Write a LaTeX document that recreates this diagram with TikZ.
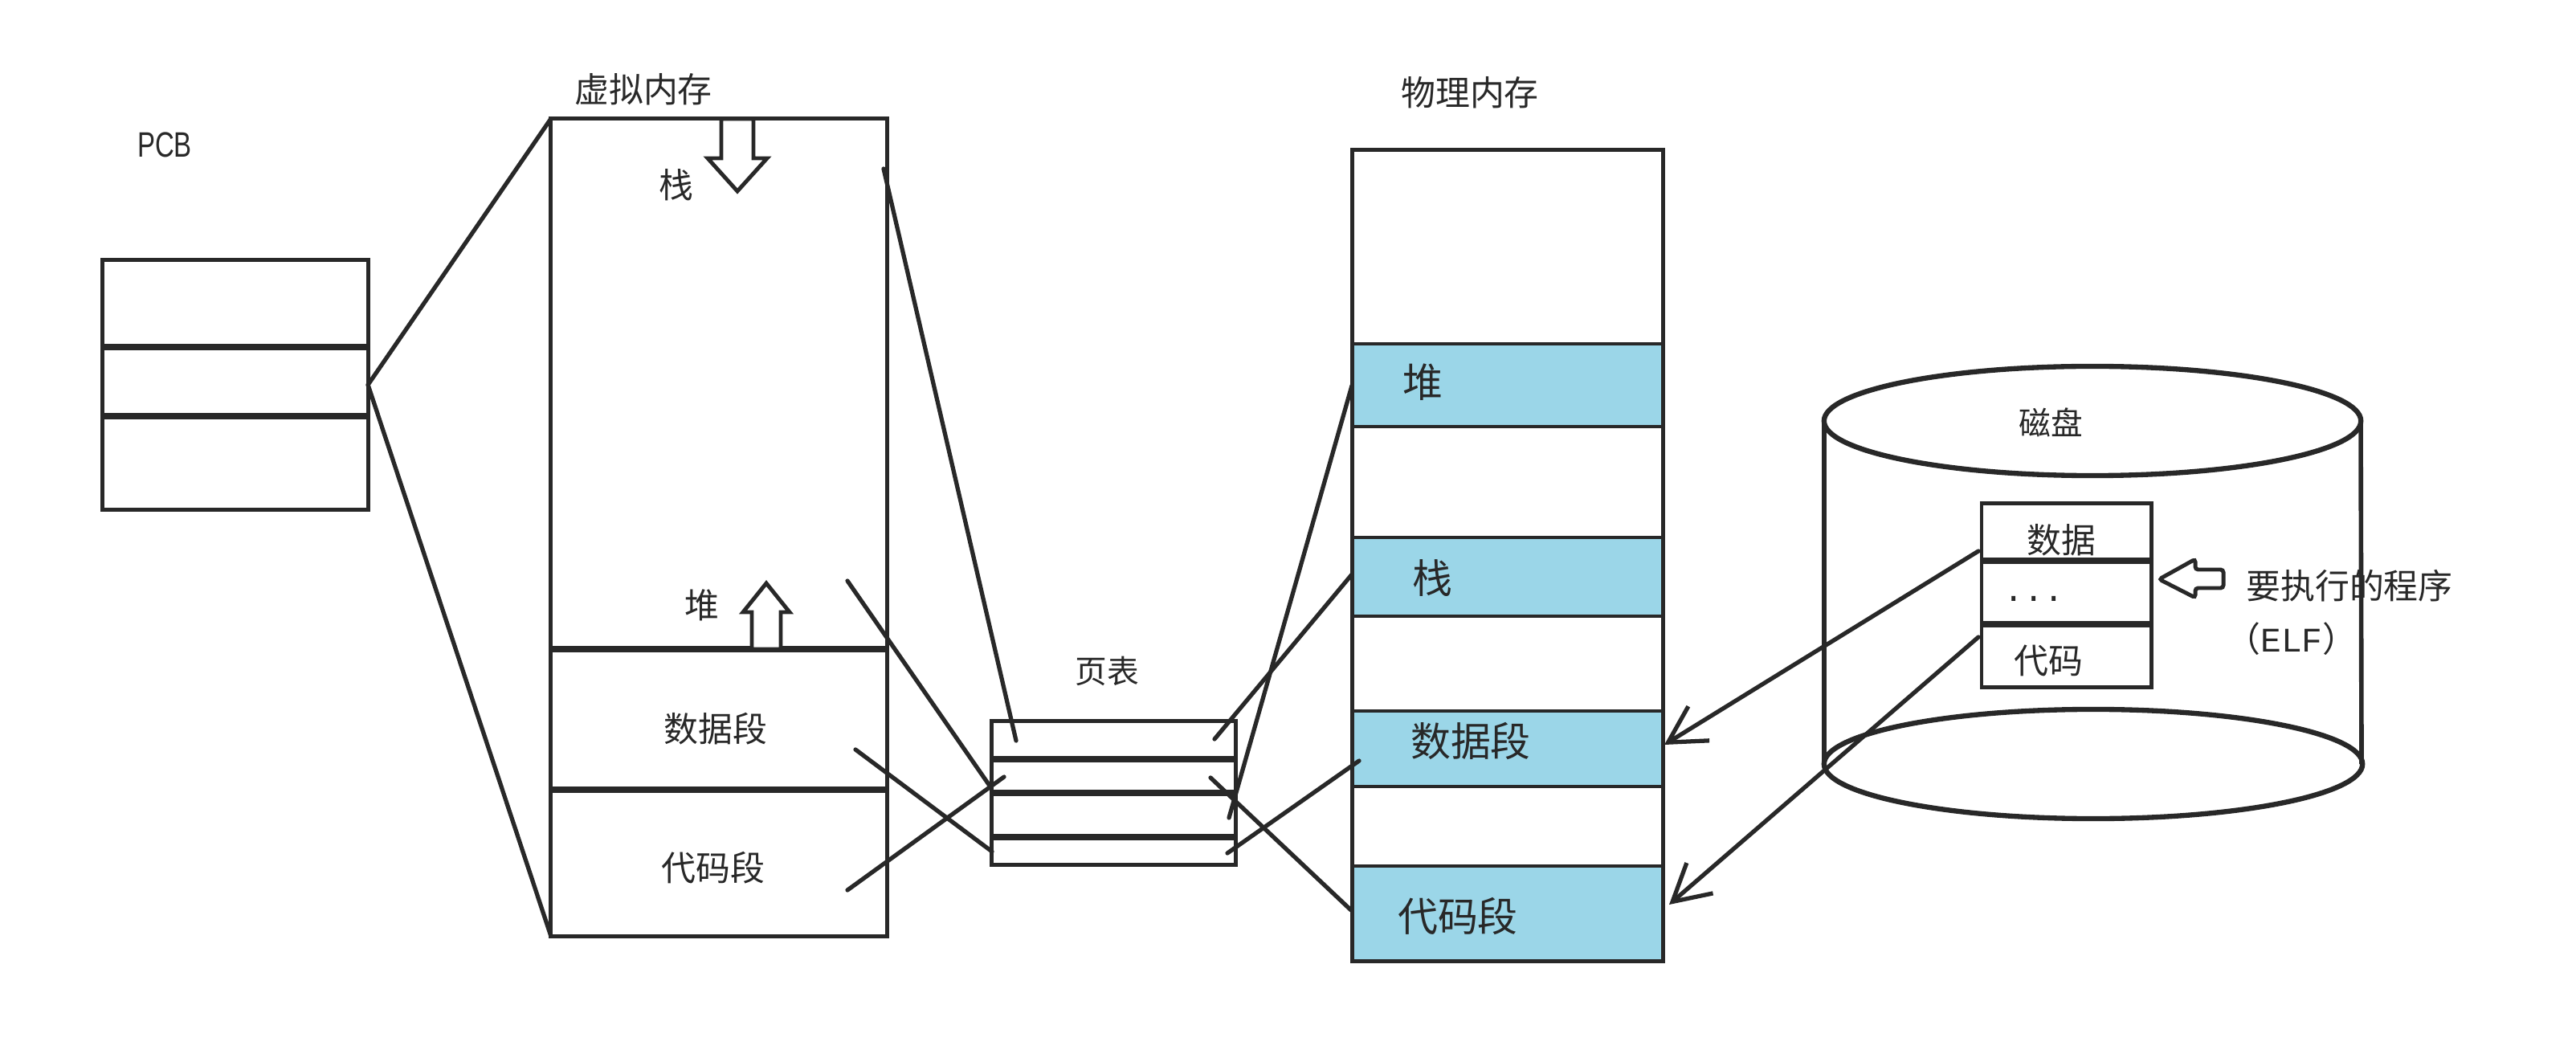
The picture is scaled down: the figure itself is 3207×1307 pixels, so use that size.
\documentclass[tikz,border=0pt]{standalone}
\usepackage{fontspec}
\setmainfont{Noto Sans CJK SC}
\newfontfamily\latinsans{Liberation Sans}
\newfontfamily\monofont{Liberation Mono}
\usetikzlibrary{arrows.meta}
\definecolor{segblue}{RGB}{155,214,232}
\definecolor{ink}{RGB}{40,40,40}
\begin{document}
\begin{tikzpicture}[x=0.01cm,y=-0.01cm,
  box/.style={draw=ink, line width=1.4pt, rectangle, inner sep=0pt, outer sep=0pt},
  divider/.style={draw=ink, line width=2pt},
  link/.style={draw=ink, line width=1.5pt, line cap=round},
  lbl/.style={font=\fontsize{12.2}{14}\selectfont, inner sep=0pt, text=ink},
  smalllbl/.style={font=\fontsize{11.3}{13}\selectfont, inner sep=0pt, text=ink},
  biglbl/.style={font=\fontsize{14.2}{16}\selectfont, inner sep=0pt, text=ink},
  band/.style={box, fill=segblue},
  hollow/.style={draw=ink, line width=1.4pt, fill=white, line join=miter},
  load/.style={link, -{Straight Barb[length=0.45cm,width=0.5cm]}}
]
\useasboundingbox (0,0) rectangle (3207,1307);
\fill[white] (0,0) rectangle (3207,1307);

% ---------- PCB ----------
\node[lbl, font=\latinsans\fontsize{12.5}{14}\selectfont] (pcblbl) at (205,180) {\scalebox{0.75}[1]{PCB}};
\node[box, minimum width=3.30cm, minimum height=3.10cm] (pcb) at (293,479) {};
\draw[divider] (128,432) -- (458,432);
\draw[divider] (128,518) -- (458,518);

% ---------- virtual memory ----------
\node[lbl] (vmlbl) at (801,111) {虚拟内存};
\node[box, minimum width=4.18cm, minimum height=10.17cm] (vm) at (895,656.5) {};
\draw[divider] (686,808) -- (1104,808);
\draw[divider] (686,983) -- (1104,983);
\draw[hollow] (898,148) -- (898,197) -- (881,197) -- (918,238) -- (955,197) -- (938,197) -- (938,148) -- cycle;
\draw[hollow] (936,808) -- (936,762) -- (925,762) -- (954,726) -- (983,762) -- (972,762) -- (972,808) -- cycle;
\node[lbl] (vmstack) at (842,230) {栈};
\node[lbl] (vmheap) at (874,753) {堆};
\node[lbl] (vmdata) at (891,907) {数据段};
\node[lbl] (vmcode) at (888,1080) {代码段};

% ---------- page table ----------
\node[smalllbl] (ptlbl) at (1378,835) {页表};
\node[box, minimum width=3.03cm, minimum height=1.78cm] (pt) at (1386.5,987) {};
\draw[divider] (1235,945) -- (1538,945);
\draw[divider] (1235,987) -- (1538,987);
\draw[divider] (1235,1042) -- (1538,1042);

% ---------- physical memory ----------
\node[lbl] (pmlbl) at (1830,115) {物理内存};
\node[box, minimum width=3.86cm, minimum height=10.09cm] (pm) at (1877,691.5) {};
\node[band, minimum width=3.86cm, minimum height=1.03cm] (pmheap) at (1877,479.5) {};
\node[band, minimum width=3.86cm, minimum height=0.98cm] (pmstack) at (1877,718) {};
\node[band, minimum width=3.86cm, minimum height=0.94cm] (pmdata) at (1877,932) {};
\node[band, minimum width=3.86cm, minimum height=1.18cm] (pmcode) at (1877,1137) {};
\node[biglbl] (pmheaplbl) at (1771,476) {堆};
\node[biglbl] (pmstacklbl) at (1783,720) {栈};
\node[biglbl] (pmdatalbl) at (1831,922) {数据段};
\node[biglbl] (pmcodelbl) at (1815,1140) {代码段};

% ---------- disk ----------
\draw[ink, line width=1.6pt] (2271,524) -- (2271,951);
\draw[ink, line width=1.6pt] (2939,524) -- (2940,951);
\draw[ink, line width=1.8pt, fill=white] (2605,524) ellipse [x radius=3.34cm, y radius=0.68cm];
\draw[ink, line width=1.8pt] (2606,951) ellipse [x radius=3.35cm, y radius=0.68cm];
\node[smalllbl] (disklbl) at (2553,526) {磁盘};
\node[box, fill=white, minimum width=2.11cm, minimum height=2.28cm] (elf) at (2572.5,741) {};
\draw[divider] (2467,698) -- (2678,698);
\draw[divider] (2467,777) -- (2678,777);
\node[lbl] (elfdata) at (2566,672) {数据};
\node[lbl, font=\monofont\fontsize{12}{14}\selectfont] (elfdots) at (2532,745) {...};
\node[lbl] (elfcode) at (2550,822) {代码};
\draw[hollow, rounded corners=1pt] (2688,721) -- (2733,696) -- (2733,709) -- (2768,709) -- (2768,732) -- (2733,732) -- (2733,744) -- cycle;
\node[lbl] (proglbl) at (2925,729) {要执行的程序};
\node[lbl] (elflbl) at (2853,795) {（{\monofont ELF}）};

% ---------- connector end points ----------
\coordinate (vmS) at (1100,210);
\coordinate (vmH) at (1055,723);
\coordinate (vmD) at (1065,933);
\coordinate (vmC) at (1055,1108);
\coordinate (ptS) at (1265,922);
\coordinate (ptH) at (1232,978);
\coordinate (ptD) at (1235,1060);
\coordinate (ptC) at (1250,967);
\coordinate (ptRH) at (1530,1018);
\coordinate (ptRS) at (1512,920);
\coordinate (ptRD) at (1528,1062);
\coordinate (ptRC) at (1507,968);
\coordinate (pmH) at (1683,480);
\coordinate (pmS) at (1683,715);
\coordinate (pmD) at (1692,947);
\coordinate (pmC) at (1682,1133);
\coordinate (elfD) at (2463,686);
\coordinate (elfC) at (2463,793);
\coordinate (pmDin) at (2072,927);
\coordinate (pmCin) at (2078,1126);

% ---------- connectors ----------
\draw[link] (pcb.east) -- (vm.north west);
\draw[link] (pcb.east) -- (vm.south west);
\draw[link] (vmS) -- (ptS);
\draw[link] (vmH) -- (ptH);
\draw[link] (vmD) -- (ptD);
\draw[link] (vmC) -- (ptC);
\draw[link] (pmH) -- (ptRH);
\draw[link] (pmS) -- (ptRS);
\draw[link] (pmD) -- (ptRD);
\draw[link] (ptRC) -- (pmC);
\draw[load] (elfD) -- (pmDin);
\draw[load] (elfC) -- (pmCin);
\end{tikzpicture}
\end{document}
